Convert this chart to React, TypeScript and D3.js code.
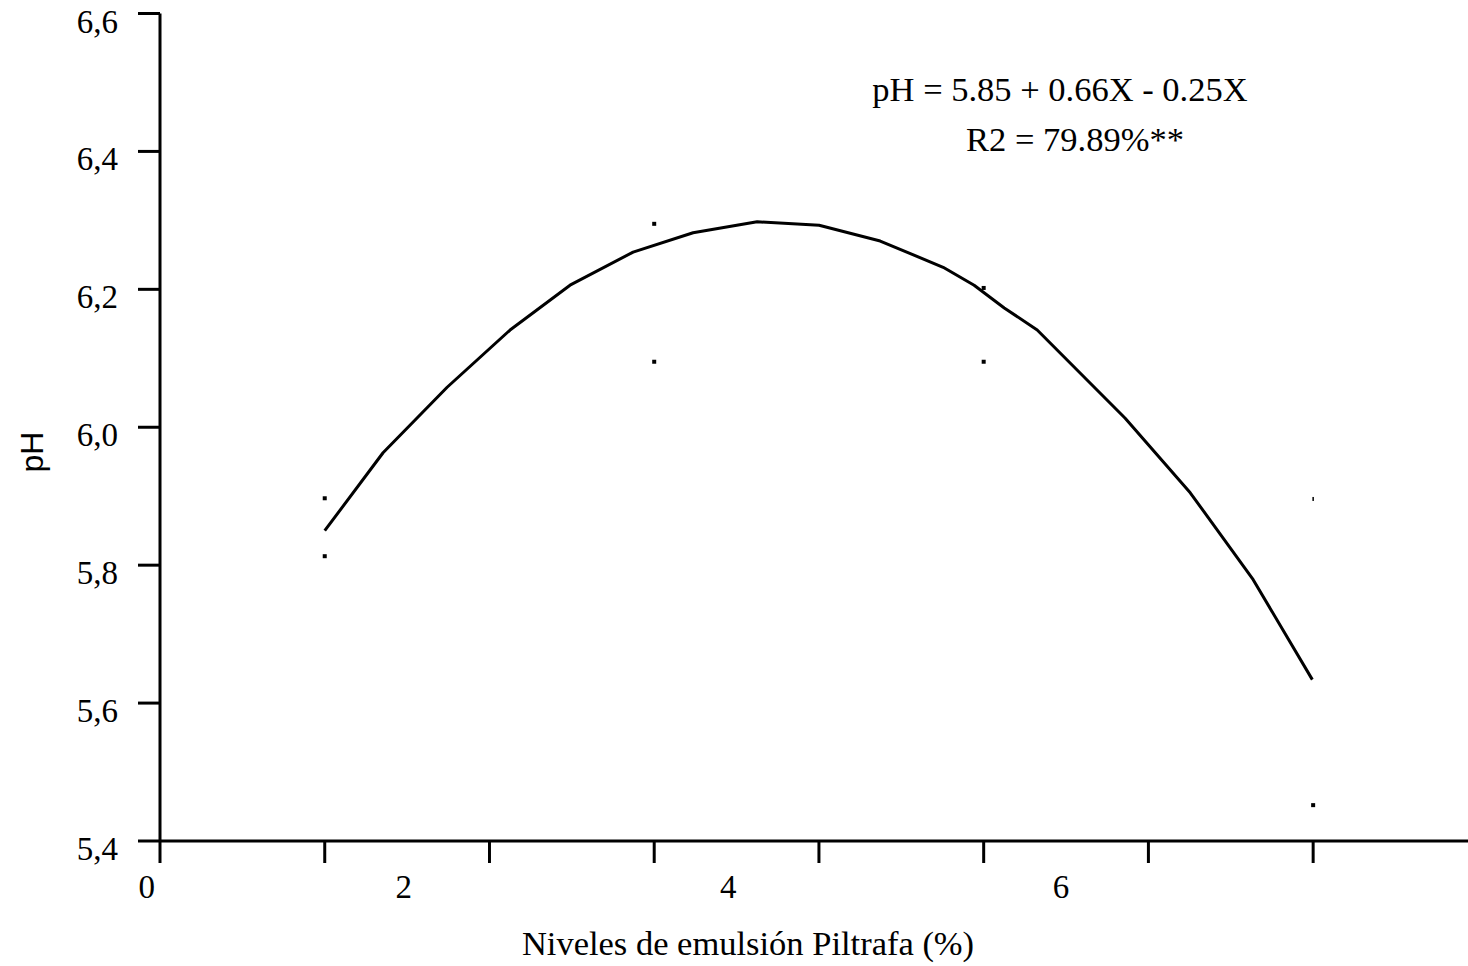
import React from 'react';
import * as d3 from 'd3';

// x is in axis units: one unit per tick mark
const curveX = [1.0, 1.354, 1.743, 2.125, 2.489, 2.872, 3.236, 3.625, 4.001, 4.372, 4.754, 4.942, 5.125, 5.325, 5.859, 6.254, 6.636, 6.995];
const curvePH = [5.85, 5.963, 6.058, 6.141, 6.206, 6.254, 6.282, 6.298, 6.293, 6.27, 6.232, 6.206, 6.173, 6.141, 6.013, 5.905, 5.779, 5.634];

const obsX = [1, 1, 3, 3, 5, 5, 7, 7];
const obsPH = [5.897, 5.813, 6.295, 6.095, 6.202, 6.095, 5.896, 5.452];

const yTicks = [5.4, 5.6, 5.8, 6.0, 6.2, 6.4, 6.6];
const xTicks = [0, 1, 2, 3, 4, 5, 6, 7];
const xTickLabels = ['0', '2', '4', '6'];
const xTickLabelAt = [-0.08, 1.48, 3.45, 5.47];

const equation = 'pH = 5.85 + 0.66X - 0.25X';
const r2 = 'R2 = 79.89%**';

const W = 1468, H = 966;
const serif = '"Liberation Serif", "Times New Roman", serif';

const App = () => {
  const x = d3.scaleLinear().domain([0, 7.94]).range([160, 1468]);
  const y = d3.scaleLinear().domain([5.4, 6.6]).range([841, 13.5]);
  const fmt = d3.formatLocale({ decimal: ',', thousands: '.', grouping: [3], currency: ['', ''] }).format('.1f');

  const line = d3.line<number>()
    .x((d, i) => x(curveX[i]))
    .y(d => y(d));

  return (
    <div style={{ position: 'absolute', left: 0, top: 0 }}>
      <svg width={W} height={H} style={{ display: 'block', background: '#fff' }}>
        {/* y axis */}
        <line x1={x(0)} x2={x(0)} y1={y(6.6)} y2={y(5.4)} stroke="#000" strokeWidth={3} />
        {yTicks.map(t => (
          <g key={t}>
            <line x1={x(0) - 22} x2={x(0)} y1={y(t)} y2={y(t)} stroke="#000" strokeWidth={3} />
            <text x={118} y={y(t) + 19} textAnchor="end" fontFamily={serif} fontSize={33}>{fmt(t)}</text>
          </g>
        ))}
        {/* x axis */}
        <line x1={x(0)} x2={W} y1={y(5.4)} y2={y(5.4)} stroke="#000" strokeWidth={3} />
        {xTicks.map(t => (
          <line key={t} x1={x(t)} x2={x(t)} y1={y(5.4)} y2={y(5.4) + 22} stroke="#000" strokeWidth={3} />
        ))}
        {xTickLabels.map((l, i) => (
          <text key={l} x={x(xTickLabelAt[i])} y={898} textAnchor="middle" fontFamily={serif} fontSize={33}>{l}</text>
        ))}
        <text x={748} y={955} textAnchor="middle" fontFamily={serif} fontSize={34.5}>Niveles de emulsión Piltrafa (%)</text>
        <text transform="translate(43,452) rotate(-90)" textAnchor="middle" fontFamily='"Liberation Sans", Arial, sans-serif' fontSize={32}>pH</text>

        {/* fitted curve */}
        <path d={line(curvePH) || ''} fill="none" stroke="#000" strokeWidth={3} strokeLinejoin="round" />

        {/* observations */}
        {obsX.map((v, i) => (
          <rect key={i} x={x(v) - (i === 6 ? 0.75 : 2)} y={y(obsPH[i]) - 2} width={i === 6 ? 1.5 : 4} height={4} fill="#000" />
        ))}

        <text x={1060} y={101} textAnchor="middle" fontFamily={serif} fontSize={34.5}>{equation}</text>
        <text x={1075} y={151} textAnchor="middle" fontFamily={serif} fontSize={34.5}>{r2}</text>
      </svg>
    </div>
  );
};

export default App;
